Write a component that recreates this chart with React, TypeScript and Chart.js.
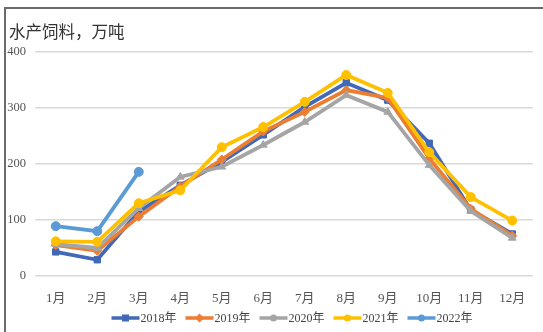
import React, { useEffect, useRef } from "react";
import { Chart, registerables } from "chart.js";

Chart.register(...registerables);

const months = ["1月", "2月", "3月", "4月", "5月", "6月", "7月", "8月", "9月", "10月", "11月", "12月"];
const years = ["2018年", "2019年", "2020年", "2021年", "2022年"];
const v2018 = [43, 29, 115, 162, 204, 252, 302, 345, 314, 237, 118, 75];
const v2019 = [55, 45, 106, 160, 208, 258, 293, 332, 318, 210, 120, 72];
const v2020 = [57, 50, 121, 177, 195, 234, 275, 323, 293, 198, 116, 68];
const v2021 = [62, 61, 130, 153, 230, 266, 311, 359, 327, 221, 141, 99];
const v2022 = [89, 80, 186];
const yTicks = [0, 100, 200, 300, 400];
const titleText = "水产饲料，万吨";

const colors = ["#4169b8", "#ed7d31", "#a5a5a5", "#ffc000", "#5b9bd5"];
const markers = ["rect", "rectRot", "triangle", "circle", "circle"] as const;

const serif = '"Liberation Serif", "Noto Sans CJK SC", serif';

function drawMarker(ctx: CanvasRenderingContext2D, style: string, x: number, y: number, r: number) {
  ctx.beginPath();
  if (style === "rect") {
    ctx.rect(x - r, y - r, r * 2, r * 2);
  } else if (style === "rectRot") {
    ctx.moveTo(x, y - r * 1.3);
    ctx.lineTo(x + r * 1.3, y);
    ctx.lineTo(x, y + r * 1.3);
    ctx.lineTo(x - r * 1.3, y);
    ctx.closePath();
  } else {
    ctx.arc(x, y, r, 0, Math.PI * 2);
  }
  ctx.fill();
}

const overlay = {
  id: "overlay",
  afterDraw(chart: any) {
    const ctx: CanvasRenderingContext2D = chart.ctx;
    ctx.save();
    // title
    ctx.fillStyle = "#333333";
    ctx.font = '16.5px "Noto Sans CJK SC", sans-serif';
    ctx.textBaseline = "middle";
    ctx.textAlign = "left";
    ctx.fillText(titleText, 9, 32);

    // legend: line + marker, then label
    ctx.font = "12px " + serif;
    const lineW = 28;
    const gap = 9;
    const widths = years.map((y) => ctx.measureText(y).width);
    const total = widths.reduce((a, b) => a + b + lineW + 1, 0) + gap * (years.length - 1);
    let x = 292 - total / 2;
    const cy = 318;
    years.forEach((label, i) => {
      ctx.strokeStyle = colors[i];
      ctx.lineWidth = 3.5;
      ctx.beginPath();
      ctx.moveTo(x, cy);
      ctx.lineTo(x + lineW, cy);
      ctx.stroke();
      ctx.fillStyle = colors[i];
      drawMarker(ctx, markers[i] === "triangle" ? "circle" : markers[i], x + lineW / 2, cy, 3.5);
      ctx.fillStyle = "#444444";
      ctx.textAlign = "left";
      ctx.fillText(label, x + lineW + 1, cy + 1);
      x += lineW + 1 + widths[i] + gap;
    });
    ctx.restore();
  },
};

export default function App() {
  const ref = useRef<HTMLCanvasElement | null>(null);

  useEffect(() => {
    if (!ref.current) return;
    const series = [v2018, v2019, v2020, v2021, v2022];
    const chart = new Chart(ref.current, {
      type: "line",
      data: {
        labels: months,
        datasets: series.map((data, i) => ({
          label: years[i],
          data,
          borderColor: colors[i],
          backgroundColor: colors[i],
          borderWidth: 3.8,
          pointStyle: markers[i],
          pointRadius: 4.5,
          pointBorderWidth: 1,
          fill: false,
          tension: 0,
          order: series.length - i,
        })),
      },
      options: {
        animation: false,
        responsive: false,
        maintainAspectRatio: false,
        layout: { padding: { top: 52, left: 0, right: 10, bottom: 0 } },
        plugins: {
          legend: { display: false },
          title: { display: false },
          tooltip: { enabled: false },
        },
        scales: {
          x: {
            offset: true,
            grid: { display: false, drawTicks: false },
            border: { display: false },
            ticks: {
              color: "#555555",
              padding: 15,
              font: { family: serif, size: 13 },
              maxRotation: 0,
              autoSkip: false,
            },
            afterFit(scale: any) {
              scale.height = 56;
            },
          },
          y: {
            min: 0,
            max: 400,
            afterBuildTicks(scale: any) {
              scale.ticks = yTicks.map((v) => ({ value: v }));
            },
            grid: { color: "#d9d9d9", lineWidth: 1.5, drawTicks: false },
            border: { display: false },
            ticks: {
              color: "#555555",
              padding: 9,
              font: { family: serif, size: 12.5 },
            },
            afterFit(scale: any) {
              scale.width = 35;
            },
          },
        },
      },
      plugins: [overlay],
    });
    return () => chart.destroy();
  }, []);

  return (
    <div style={{ position: "absolute", left: 0, top: 0, width: 543, height: 332, background: "#ffffff" }}>
      <canvas ref={ref} width={543} height={332} style={{ position: "absolute", left: 0, top: 0 }} />
      <div
        style={{
          position: "absolute",
          left: 4,
          top: 7,
          width: 539,
          height: 325,
          borderTop: "2px solid #6b6b6b",
          borderLeft: "2px solid #6b6b6b",
          boxSizing: "border-box",
          pointerEvents: "none",
        }}
      />
    </div>
  );
}
